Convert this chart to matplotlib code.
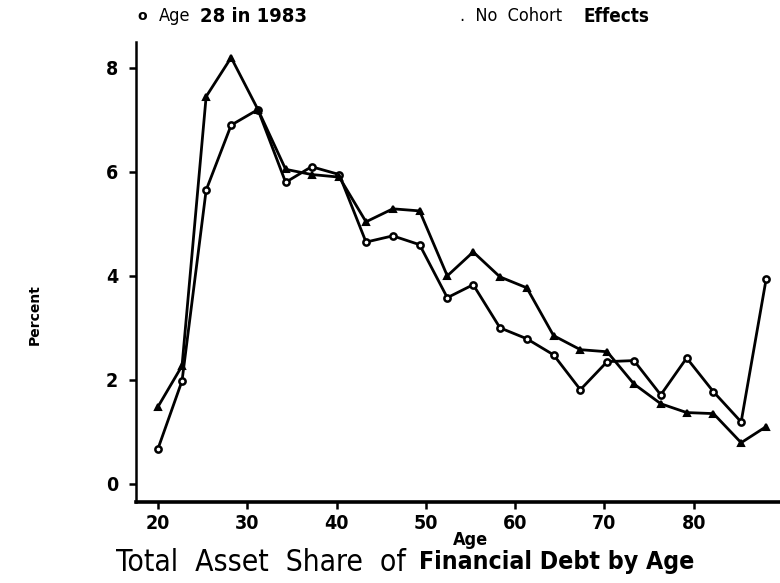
#!/usr/bin/env python3
"""Total asset share of financial debt by age, two cohort assumptions."""
import matplotlib
matplotlib.use("Agg")
import matplotlib.pyplot as plt
from matplotlib import font_manager

# ages of the plotted groups
AGES = [20.0, 22.7, 25.4, 28.2, 31.2, 34.3, 37.2, 40.3, 43.3, 46.3, 49.3, 52.4,
        55.3, 58.3, 61.3, 64.3, 67.3, 70.3, 73.3, 76.3, 79.2, 82.2, 85.3, 88.1]
# series: age 28 in 1983 (circles)
AGE28 = [0.67, 1.98, 5.65, 6.9, 7.2, 5.8, 6.1, 5.95, 4.65, 4.77, 4.6, 3.58,
         3.83, 3.0, 2.79, 2.48, 1.81, 2.35, 2.37, 1.71, 2.42, 1.77, 1.19, 3.94]
# series: no cohort effects (triangles)
NO_COHORT = [1.48, 2.27, 7.45, 8.2, 7.2, 6.05, 5.95, 5.9, 5.04, 5.29, 5.25, 4.0,
             4.46, 3.98, 3.77, 2.85, 2.58, 2.54, 1.92, 1.54, 1.37, 1.35, 0.79, 1.1]
XTICKS = [20, 30, 40, 50, 60, 70, 80]
YTICKS = [0, 2, 4, 6, 8]


def narrow_font(weight):
    # look for a condensed face among the installed fonts, fall back to DejaVu
    want_bold = weight == "bold"
    for f in font_manager.fontManager.ttflist:
        cond = "Narrow" in f.name or "Condensed" in f.name or f.stretch in ("condensed", 75, 87)
        bold = f.weight in ("bold", 700)
        if cond and bold == want_bold and f.style == "normal":
            return font_manager.FontProperties(fname=f.fname)
    return None


REG = narrow_font("normal")
BOLD = narrow_font("bold")


def fp(bold, size):
    src = BOLD if bold else REG
    if src is None:
        return font_manager.FontProperties(family="DejaVu Sans",
                                           weight="bold" if bold else "normal",
                                           size=size * 0.88)
    p = src.copy()
    p.set_size(size)
    return p


fig = plt.figure(figsize=(7.8, 5.83), dpi=100)
ax = fig.add_axes([0.1744, 0.139, 0.8256, 0.789])

ax.plot(AGES, AGE28, "-o", color="black", lw=2.0, ms=4.5, mfc="white", mew=1.8,
        label="Age 28 in 1983")
ax.plot(AGES, NO_COHORT, "-^", color="black", lw=2.0, ms=4.5, mfc="black", mew=1.5,
        label="No Cohort Effects")

ax.set_xlim(17.55, 89.65)
ax.set_ylim(-0.35, 8.5)
ax.set_xticks(XTICKS)
ax.set_yticks(YTICKS)
for side in ("top", "right"):
    ax.spines[side].set_visible(False)
ax.spines["bottom"].set_linewidth(2.6)
ax.spines["left"].set_linewidth(1.8)
ax.tick_params(axis="both", direction="out", length=5, width=1.8)
ax.tick_params(axis="y", pad=8)
ax.tick_params(axis="x", pad=4)
for lab in ax.get_xticklabels() + ax.get_yticklabels():
    lab.set_fontproperties(fp(True, 14))

ax.set_xlabel("Age", fontproperties=fp(True, 13))
ax.xaxis.set_label_coords(0.519, -0.064)
fig.text(0.045, 0.46, "Percent", rotation=90, ha="center", va="center",
         fontsize=10, fontweight="bold")

# legend line at top
fig.text(0.176, 0.972, "o", ha="left", va="center", fontsize=10, fontweight="bold")
fig.text(0.204, 0.972, "Age", ha="left", va="center", fontproperties=fp(False, 13))
fig.text(0.257, 0.972, "28 in 1983", ha="left", va="center", fontproperties=fp(True, 14.5))
fig.text(0.590, 0.972, ".  No  Cohort", ha="left", va="center",
         fontproperties=fp(False, 13))
fig.text(0.748, 0.972, "Effects", ha="left", va="center", fontproperties=fp(True, 13.5))

# caption
fig.text(0.149, 0.036, "Total  Asset  Share  of", ha="left", va="center",
         fontproperties=fp(False, 21.5))
fig.text(0.890, 0.036, "Financial Debt by Age", ha="right", va="center",
         fontproperties=fp(True, 17.8))

fig.savefig("out.png", dpi=100)
